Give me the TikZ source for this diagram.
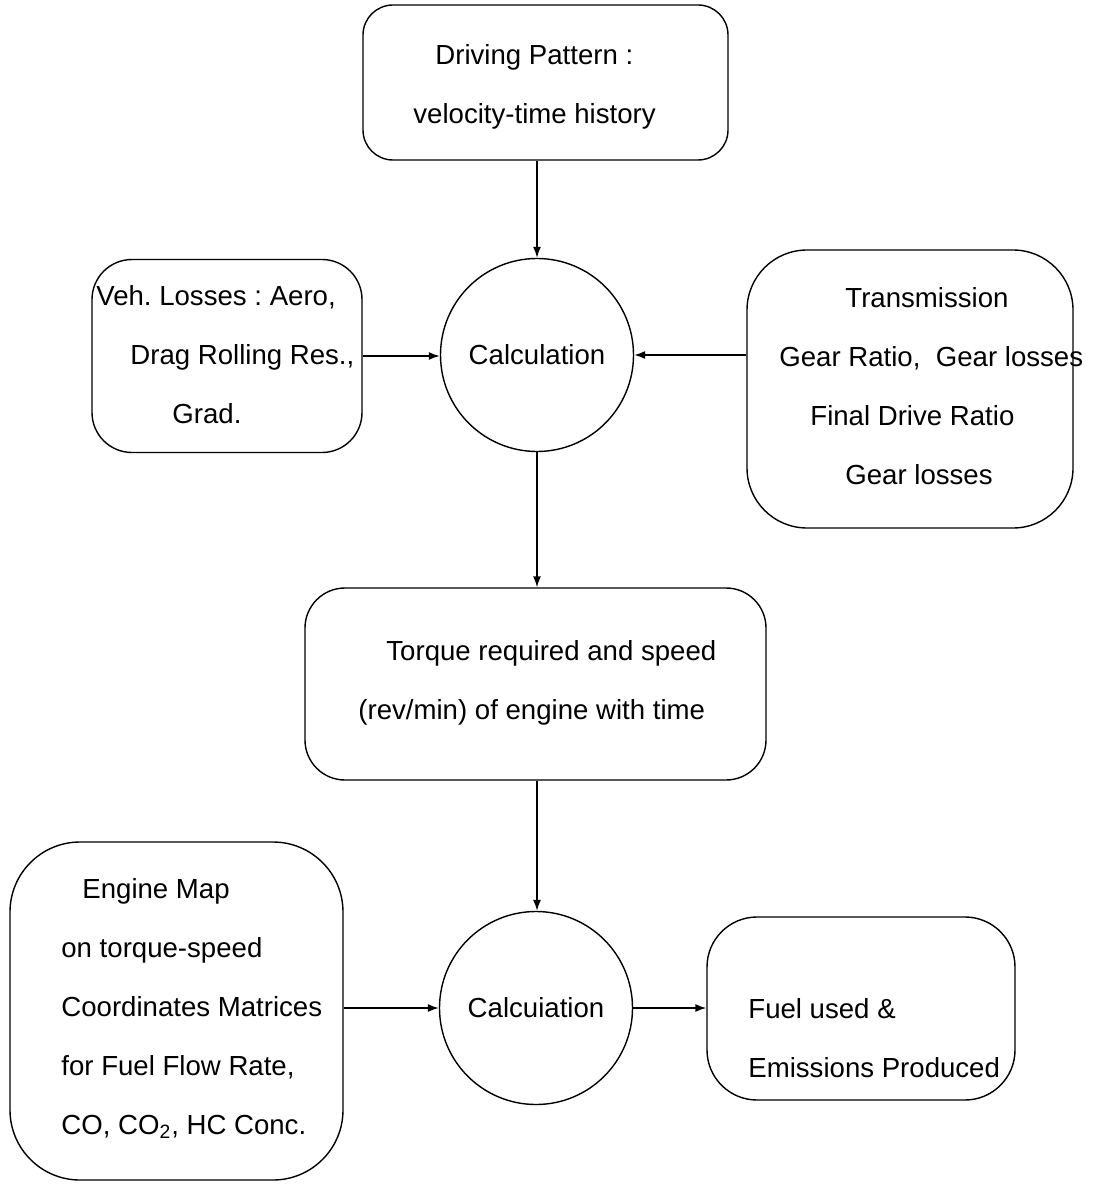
\documentclass[tikz,border=0pt]{standalone}
\usepackage{fontspec}
\setmainfont{Liberation Sans}
\usetikzlibrary{arrows.meta}
\frenchspacing

\begin{document}
\begin{tikzpicture}[x=0.5pt, y=-0.5pt,
    font=\fontsize{13.8}{29.5}\selectfont,
    flowbox/.style={draw, rectangle, inner sep=0pt, line width=0.7pt},
    calcnode/.style={draw, circle, inner sep=0pt, line width=0.7pt, minimum size=96.5pt},
    boxtext/.style={anchor=west, align=left, inner sep=0pt},
    flow/.style={-{Latex[length=5.5pt, width=4pt]}, line width=0.7pt}]
  \useasboundingbox (0,0) rectangle (1093,1187);

  % Top box: driving pattern
  \node[flowbox, rounded corners=15pt, minimum width=182.5pt, minimum height=77.5pt] (drive) at (545.5, 82.5) {};
  \node[boxtext] (drivetxt) at (413, 87) {\hspace*{11pt}Driving Pattern :\\velocity-time history};

  % First calculation
  \node[calcnode] (calcA) at (537, 355) {Calculation};

  % Side inputs
  \node[flowbox, rounded corners=20pt, minimum width=135pt, minimum height=96.5pt] (losses) at (227, 356) {};
  \node[boxtext] (losstxt) at (96, 355) {Veh. Losses : Aero,\\\hspace*{17pt}Drag Rolling Res.,\\\hspace*{38pt}Grad.};

  \node[flowbox, rounded corners=30pt, minimum width=163pt, minimum height=139pt] (trans) at (910, 389) {};
  \node[boxtext] (transtxt) at (779, 386) {\hspace*{33pt}Transmission\\Gear Ratio,\ \ Gear losses\\\hspace*{15.5pt}Final Drive Ratio\\\hspace*{33pt}Gear losses};

  % Torque and speed box
  \node[flowbox, rounded corners=20pt, minimum width=230.5pt, minimum height=96pt] (torque) at (535.5, 684) {};
  \node[boxtext] (torquetxt) at (358, 682.5) {\hspace*{14pt}Torque required and speed\\(rev/min) of engine with time};

  % Second calculation
  \node[calcnode] (calcB) at (536, 1008) {Calcuiation};

  % Engine map and result
  \node[flowbox, rounded corners=35pt, minimum width=166.5pt, minimum height=169pt] (engmap) at (176.5, 1011) {};
  \node[boxtext] (engtxt) at (61, 1008.5) {\hspace*{10.5pt}Engine Map\\on torque-speed\\Coordinates Matrices\\for Fuel Flow Rate,\\CO, CO\textsubscript{2}, HC Conc.};

  \node[flowbox, rounded corners=25pt, minimum width=154pt, minimum height=91.5pt] (fuel) at (861, 1008.5) {};
  \node[boxtext] (fueltxt) at (748, 1038) {Fuel used \&\\Emissions Produced};

  % Connectors
  \draw[flow] (calcA |- drive.south) -- (calcA.north);
  \draw[flow] (losses.east) -- (losses.east -| calcA.west);
  \draw[flow] (trans.west |- calcA) -- (calcA.east);
  \draw[flow] (calcA.south) -- (calcA |- torque.north);
  \draw[flow] (calcA |- torque.south) -- (calcA |- calcB.north);
  \draw[flow] (engmap.east |- calcB) -- (calcB.west);
  \draw[flow] (calcB.east) -- (fuel.west |- calcB);
\end{tikzpicture}
\end{document}
